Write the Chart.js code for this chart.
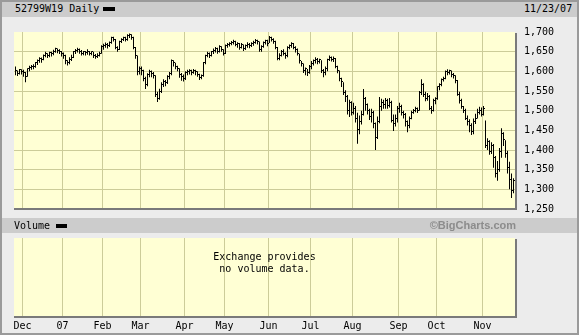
<!DOCTYPE html>
<html lang="en">
<head>
  <meta charset="UTF-8" />
  <title>52799W19 Daily</title>
  <script src="https://cdn.jsdelivr.net/npm/chart.js"></script>
  <style>
    body { margin: 0; }
    .frame { position: relative; width: 579px; height: 335px; background: #ececec; overflow: hidden;
             font-family: "DejaVu Sans Mono", monospace; font-size: 10px; color: #000; }
    .bar { position: absolute; left: 0; width: 579px; background: #cccccc; }
    .txt { position: absolute; white-space: pre; }
    .key { position: absolute; background: #000; }
    .edge { position: absolute; left: 0; top: 0; width: 579px; height: 335px; box-sizing: border-box;
            border: 2px solid #9a9a9a; pointer-events: none; }
    canvas { position: absolute; left: 0; }
  </style>
</head>
<body>
  <div class="frame">
    <div class="bar" style="top:0;height:17px"></div>
    <div class="txt" style="left:15px;top:3px;line-height:12px">52799W19 Daily</div>
    <div class="key" style="left:103px;top:7px;width:12px;height:4px"></div>
    <div class="txt" style="left:524px;top:3px;line-height:12px">11/23/07</div>

    <canvas id="priceChart" width="579" height="207" style="top:17px"></canvas>

    <div class="bar" style="top:218px;height:15px"></div>
    <div class="txt" style="left:14px;top:220px;line-height:12px">Volume</div>
    <div class="key" style="left:56px;top:224px;width:11px;height:4px"></div>
    <div class="txt" style="left:0;width:516px;top:219px;line-height:13px;text-align:right;font:bold 11px 'Liberation Sans', Arial, sans-serif;color:#8c8c8c">©BigCharts.com</div>

    <canvas id="volumeChart" width="579" height="100" style="top:233px"></canvas>
    <div class="txt" style="left:14px;width:501px;top:251px;line-height:12px;text-align:center">Exchange provides
no volume data.</div>

    <div class="edge"></div>
  </div>

  <script>
    // daily bars, Nov 27 2006 .. Nov 23 2007 (index = trading day)
    const highs = [
      1612, 1602, 1606, 1605,
      1604, 1598, 1608, 1614, 1616, 1618, 1624, 1630, 1636, 1635, 1643, 1650, 1646, 1650, 1650, 1655, 1660, 1658, 1656, 1652,
      1648, 1642, 1628, 1636, 1642, 1652, 1657, 1660, 1658, 1654, 1652, 1652, 1656, 1652, 1651, 1650, 1644, 1646, 1650, 1666,
      1670, 1673, 1672, 1676, 1688, 1688, 1682, 1664, 1678, 1684, 1688, 1688, 1694, 1696, 1694, 1688, 1662, 1640, 1612,
      1612, 1604, 1586, 1595, 1604, 1602, 1598, 1590, 1548, 1556, 1572, 1580, 1578, 1590, 1598, 1630, 1628, 1622, 1614, 1608, 1596, 1592,
      1600, 1604, 1605, 1604, 1606, 1604, 1600, 1594, 1592, 1624, 1642, 1650, 1648, 1652, 1658, 1662, 1660, 1666, 1664, 1656,
      1668, 1672, 1674, 1677, 1680, 1678, 1674, 1672, 1672, 1668, 1668, 1674, 1672, 1674, 1678, 1682, 1680, 1676, 1666, 1676, 1680, 1680,
      1690, 1688, 1684, 1678, 1662, 1646, 1654, 1656, 1648, 1664, 1668, 1674, 1672, 1664, 1658, 1645, 1626, 1620, 1610, 1606, 1616,
      1626, 1630, 1636, 1634, 1632, 1628, 1606, 1612, 1632, 1640, 1638, 1638, 1634, 1614, 1602, 1584, 1572, 1552, 1540, 1528, 1524,
      1520, 1512, 1495, 1488, 1500, 1555, 1535, 1518, 1505, 1505, 1500, 1470, 1485, 1535, 1530, 1528, 1532, 1530, 1532, 1525, 1490, 1490, 1512,
      1520, 1515, 1500, 1494, 1475, 1485, 1500, 1504, 1510, 1508, 1550, 1580, 1570, 1548, 1545, 1540, 1512, 1530, 1534,
      1562, 1570, 1582, 1586, 1602, 1605, 1604, 1602, 1596, 1590, 1578, 1548, 1530, 1512, 1505, 1488, 1478, 1468, 1480, 1492, 1505, 1510, 1508,
      1512, 1475, 1430, 1425, 1420, 1415, 1385, 1372, 1405, 1455, 1445, 1425, 1398, 1370, 1340, 1328
    ];
    const lows = [
      1590, 1588, 1592, 1592,
      1586, 1572, 1586, 1600, 1604, 1605, 1609, 1616, 1622, 1622, 1628, 1636, 1634, 1636, 1638, 1641, 1647, 1646, 1644, 1638,
      1632, 1618, 1615, 1618, 1626, 1634, 1644, 1648, 1645, 1640, 1641, 1640, 1642, 1640, 1641, 1634, 1632, 1634, 1638, 1645,
      1655, 1660, 1658, 1662, 1670, 1676, 1656, 1650, 1654, 1672, 1677, 1676, 1678, 1685, 1680, 1656, 1632, 1590, 1592,
      1590, 1575, 1555, 1562, 1585, 1585, 1582, 1535, 1522, 1528, 1545, 1560, 1562, 1568, 1580, 1590, 1612, 1605, 1600, 1584, 1576, 1574,
      1578, 1590, 1592, 1590, 1594, 1590, 1586, 1578, 1580, 1586, 1618, 1636, 1634, 1638, 1644, 1648, 1645, 1648, 1650, 1640,
      1644, 1660, 1663, 1666, 1668, 1664, 1660, 1655, 1658, 1652, 1654, 1660, 1659, 1662, 1665, 1670, 1668, 1650, 1650, 1660, 1668, 1664,
      1672, 1676, 1670, 1656, 1628, 1628, 1638, 1640, 1632, 1636, 1656, 1660, 1656, 1648, 1640, 1620, 1612, 1596, 1590, 1588, 1594,
      1605, 1615, 1620, 1618, 1620, 1596, 1585, 1590, 1600, 1626, 1625, 1624, 1608, 1595, 1575, 1560, 1540, 1522, 1490, 1484, 1488,
      1490, 1470, 1416, 1440, 1465, 1488, 1500, 1490, 1476, 1470, 1455, 1400, 1428, 1468, 1500, 1505, 1505, 1505, 1508, 1470, 1448, 1460, 1470,
      1495, 1488, 1480, 1460, 1445, 1455, 1478, 1492, 1496, 1494, 1500, 1540, 1535, 1524, 1525, 1502, 1492, 1498, 1516,
      1528, 1552, 1562, 1574, 1580, 1590, 1592, 1585, 1582, 1570, 1538, 1518, 1505, 1494, 1476, 1462, 1445, 1438, 1440, 1466, 1480, 1490, 1485,
      1488, 1405, 1400, 1388, 1390, 1355, 1330, 1322, 1345, 1380, 1410, 1380, 1340, 1300, 1278, 1290
    ];
    const closes = [
      1600, 1594, 1603, 1598,
      1596, 1585, 1605, 1608, 1612, 1610, 1620, 1625, 1632, 1628, 1640, 1645, 1638, 1647, 1644, 1650, 1656, 1652, 1650, 1643,
      1640, 1626, 1620, 1630, 1635, 1648, 1652, 1655, 1650, 1645, 1648, 1646, 1650, 1644, 1648, 1640, 1637, 1640, 1645, 1662,
      1665, 1668, 1664, 1672, 1684, 1680, 1660, 1655, 1675, 1680, 1684, 1680, 1690, 1692, 1686, 1660, 1640, 1598, 1605,
      1600, 1580, 1565, 1590, 1598, 1594, 1588, 1540, 1530, 1548, 1565, 1572, 1570, 1585, 1592, 1625, 1620, 1612, 1606, 1590, 1585, 1580,
      1595, 1598, 1600, 1596, 1602, 1598, 1590, 1584, 1588, 1620, 1638, 1645, 1640, 1648, 1652, 1658, 1650, 1662, 1655, 1645,
      1664, 1666, 1670, 1672, 1675, 1668, 1670, 1660, 1668, 1656, 1665, 1668, 1664, 1670, 1672, 1678, 1674, 1655, 1662, 1672, 1676, 1670,
      1684, 1680, 1675, 1660, 1632, 1640, 1650, 1645, 1638, 1660, 1664, 1670, 1660, 1655, 1645, 1625, 1618, 1600, 1605, 1596, 1610,
      1618, 1625, 1630, 1624, 1628, 1600, 1595, 1605, 1628, 1635, 1630, 1632, 1612, 1600, 1580, 1572, 1545, 1535, 1500, 1520, 1495,
      1505, 1480, 1450, 1470, 1490, 1530, 1515, 1500, 1485, 1495, 1465, 1430, 1470, 1510, 1520, 1515, 1525, 1512, 1520, 1475, 1465, 1480, 1505,
      1510, 1495, 1490, 1470, 1460, 1480, 1495, 1500, 1505, 1500, 1545, 1565, 1540, 1530, 1535, 1505, 1500, 1525, 1530,
      1560, 1565, 1578, 1580, 1598, 1595, 1600, 1590, 1588, 1575, 1540, 1525, 1510, 1500, 1480, 1470, 1460, 1445, 1470, 1480, 1495, 1500, 1490,
      1505, 1410, 1420, 1395, 1410, 1380, 1340, 1350, 1395, 1440, 1425, 1390, 1355, 1325, 1295, 1320
    ];

    // first trading day of each month (index into the arrays above)
    const monthStarts = [4, 24, 44, 63, 85, 105, 127, 148, 169, 192, 211, 234];
    const monthLabels = ['Dec', '07', 'Feb', 'Mar', 'Apr', 'May', 'Jun', 'Jul', 'Aug', 'Sep', 'Oct', 'Nov'];
    const priceTicks = [1250, 1300, 1350, 1400, 1450, 1500, 1550, 1600, 1650, 1700];

    const FONT = { family: "'DejaVu Sans Mono', monospace", size: 10 };
    const GRID = '#cccc99';

    // yellow panel with a grey drop shadow on the right and bottom
    const panel = {
      id: 'panel',
      beforeDraw(chart) {
        const { ctx, chartArea: a } = chart;
        ctx.save();
        ctx.fillStyle = '#ffffd4';
        ctx.fillRect(a.left, a.top, a.right - a.left, a.bottom - a.top);
        ctx.restore();
      },
      afterDraw(chart) {
        const { ctx, chartArea: a } = chart;
        ctx.save();
        ctx.fillStyle = '#7a7a7a';
        ctx.fillRect(a.left, a.bottom - 1, a.right - a.left + 2, 2);
        ctx.fillRect(a.right, a.top + 1, 2, a.bottom - a.top);
        ctx.restore();
      }
    };

    // close tick on the right side of every bar
    const closeTicks = {
      id: 'closeTicks',
      afterDatasetsDraw(chart) {
        const { ctx, scales: { x, y } } = chart;
        ctx.save();
        ctx.fillStyle = '#000';
        closes.forEach((c, i) => {
          const px = Math.round(x.getPixelForValue(i));
          const py = Math.round(y.getPixelForValue(c));
          ctx.fillRect(px, py - 1, 1, 1);
        });
        ctx.restore();
      }
    };

    const monthGrid = s => { s.ticks = monthStarts.map(v => ({ value: v - 0.5 })); };

    new Chart(document.getElementById('priceChart'), {
      type: 'bar',
      data: {
        datasets: [{
          data: highs.map((h, i) => ({ x: i, y: [lows[i], h] })),
          backgroundColor: '#000',
          borderWidth: 0,
          inflateAmount: 0,
          barThickness: 1
        }]
      },
      options: {
        responsive: false,
        animation: false,
        devicePixelRatio: 1,
        layout: { padding: { left: 14, top: 6, right: 0, bottom: 7 } },
        plugins: { legend: { display: false }, tooltip: { enabled: false } },
        scales: {
          x: {
            type: 'linear', min: -0.75, max: 249.75, offset: false,
            afterBuildTicks: monthGrid,
            afterFit: s => { s.height = 0; },
            ticks: { display: false },
            grid: { color: GRID, drawTicks: false, offset: false },
            border: { display: false }
          },
          y: {
            position: 'right', min: 1250, max: 1700,
            afterBuildTicks: s => { s.ticks = priceTicks.map(v => ({ value: v })); },
            afterFit: s => { s.width = 64; },
            ticks: { color: '#000', font: FONT, padding: 9, callback: v => v.toLocaleString('en-US') },
            grid: { color: c => (c.tick && c.tick.value === 1700 ? 'rgba(0,0,0,0)' : GRID), drawTicks: false },
            border: { display: false }
          }
        }
      },
      plugins: [panel, closeTicks]
    });

    new Chart(document.getElementById('volumeChart'), {
      type: 'scatter',
      data: { datasets: [{ data: [] }] },
      options: {
        responsive: false,
        animation: false,
        devicePixelRatio: 1,
        layout: { padding: { left: 14, top: 5, right: 64, bottom: 0 } },
        plugins: { legend: { display: false }, tooltip: { enabled: false } },
        scales: {
          x: {
            type: 'linear', min: -0.75, max: 249.75,
            afterBuildTicks: monthGrid,
            afterFit: s => { s.height = 16; },
            ticks: { color: '#000', font: FONT, padding: 3, autoSkip: false, maxRotation: 0,
                     callback: (v, i) => monthLabels[i] },
            grid: { color: GRID, drawTicks: false },
            border: { display: false }
          },
          y: { display: false, min: 0, max: 1 }
        }
      },
      plugins: [panel]
    });
  </script>
</body>
</html>
